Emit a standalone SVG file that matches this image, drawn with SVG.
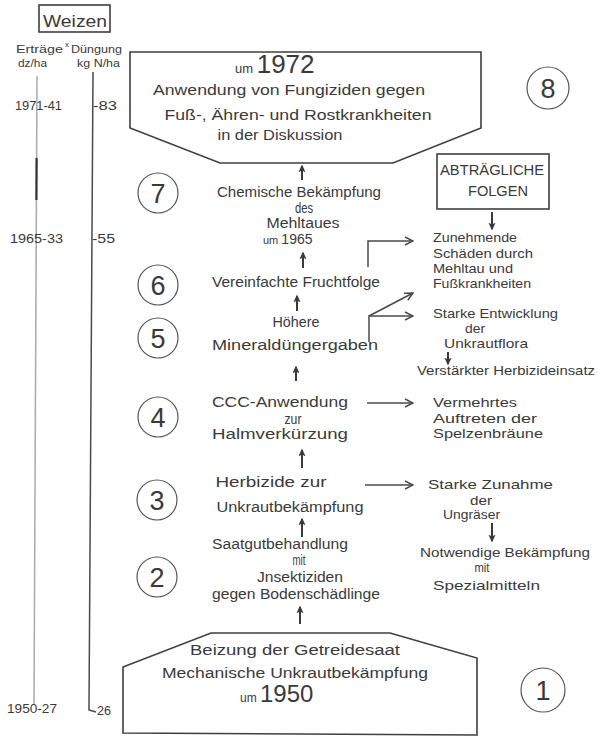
<svg xmlns="http://www.w3.org/2000/svg" width="598" height="737" viewBox="0 0 598 737">
<defs>
<style>
text{font-family:"Liberation Sans","DejaVu Sans",Arial,sans-serif;fill:#3a3a3a}
.t{font-size:14px;text-anchor:middle}
.r{font-size:13px}
.num{font-size:27px;text-anchor:middle}
.box{fill:none;stroke:#3f3f3f;stroke-width:1.6}
.circ{fill:none;stroke:#555;stroke-width:1.2}
.ln{fill:none;stroke:#4a4a4a;stroke-width:1.5}
.up{fill:none;stroke:#3a3a3a;stroke-width:2;marker-end:url(#ah)}
.rt{fill:none;stroke:#4a4a4a;stroke-width:1.5;marker-end:url(#ao)}
</style>
<marker id="ah" viewBox="0 0 10 10" refX="8" refY="5" markerWidth="8" markerHeight="8" orient="auto" markerUnits="userSpaceOnUse">
<path d="M0,0.5 L10,5 L0,9.5 L2.5,5 Z" fill="#3a3a3a"/>
</marker>
<marker id="ao" viewBox="0 0 10 10" refX="9" refY="5" markerWidth="10" markerHeight="10" orient="auto" markerUnits="userSpaceOnUse">
<path d="M1,1 L9,5 L1,9" fill="none" stroke="#4a4a4a" stroke-width="1.5"/>
</marker>
</defs>
<rect width="598" height="737" fill="#ffffff"/>

<g id="axis">
<rect x="39" y="5" width="71" height="27" class="box" stroke-width="1.3"/>
<text x="75" y="27" font-size="16" text-anchor="middle" textLength="64" lengthAdjust="spacingAndGlyphs">Weizen</text>
<text x="16" y="53" font-size="10" textLength="47" lengthAdjust="spacingAndGlyphs">Erträge</text>
<text x="65" y="47" font-size="8">x</text>
<text x="71" y="53" font-size="10" textLength="51" lengthAdjust="spacingAndGlyphs">Düngung</text>
<text x="18" y="67" font-size="10" textLength="29" lengthAdjust="spacingAndGlyphs">dz/ha</text>
<text x="77" y="67" font-size="11" textLength="43" lengthAdjust="spacingAndGlyphs">kg N/ha</text>
<line x1="37" y1="76" x2="34" y2="704" stroke="#aaa" stroke-width="1.5"/>
<line x1="36.6" y1="158" x2="36.4" y2="200" stroke="#333" stroke-width="2.2"/>
<polyline points="93,72 89,710 96,712" class="ln"/>
<text x="15" y="110" font-size="13" textLength="47" lengthAdjust="spacingAndGlyphs">1971-41</text>
<text x="93" y="110" font-size="13" textLength="24" lengthAdjust="spacingAndGlyphs">-83</text>
<text x="10" y="243" font-size="13" textLength="53" lengthAdjust="spacingAndGlyphs">1965-33</text>
<text x="92" y="243" font-size="13" textLength="23" lengthAdjust="spacingAndGlyphs">-55</text>
<text x="7" y="713" font-size="13" textLength="50" lengthAdjust="spacingAndGlyphs">1950-27</text>
<text x="97" y="715" font-size="13" textLength="14" lengthAdjust="spacingAndGlyphs">26</text>
</g>

<g id="connectors">
<line x1="302" y1="180" x2="302" y2="166" class="up"/>
<line x1="303" y1="268" x2="303" y2="253" class="up"/>
<line x1="297" y1="311" x2="297" y2="296" class="up"/>
<line x1="296" y1="381" x2="296" y2="367" class="up"/>
<line x1="302" y1="468" x2="302" y2="450" class="up"/>
<line x1="302" y1="537" x2="302" y2="519" class="up"/>
<line x1="300" y1="624" x2="300" y2="607" class="up"/>
<line x1="492" y1="212" x2="492" y2="229" class="up"/>
<line x1="448" y1="352" x2="448" y2="364" class="up"/>
<line x1="492" y1="523" x2="492" y2="541" class="up"/>
<polyline points="368,267 368,241 413,241" class="rt"/>
<polyline points="369,342 369,316 413,316" class="rt"/>
<line x1="369" y1="316" x2="413" y2="293" class="rt"/>
<line x1="367" y1="403" x2="413" y2="403" class="rt"/>
<line x1="365" y1="485" x2="413" y2="485" class="rt"/>
</g>

<g id="node8">
<polygon points="130,52 481,52 481,128 393,163 220,163 130,128" class="box"/>
<text x="235" y="73"><tspan font-size="13">um </tspan><tspan font-size="26">1972</tspan></text>
<text x="289" y="95" class="t" textLength="272" lengthAdjust="spacingAndGlyphs">Anwendung von Fungiziden  gegen</text>
<text x="298" y="120" class="t" textLength="267" lengthAdjust="spacingAndGlyphs">Fuß-, Ähren- und Rostkrankheiten</text>
<text x="280" y="140" class="t" textLength="125" lengthAdjust="spacingAndGlyphs">in der Diskussion</text>
<circle cx="548" cy="88" r="21" class="circ"/>
<text x="548" y="98" class="num">8</text>
</g>

<g id="node7">
<circle cx="158" cy="193" r="20" class="circ"/>
<text x="158" y="203" class="num">7</text>
<text x="299" y="197" class="t" textLength="164" lengthAdjust="spacingAndGlyphs">Chemische Bekämpfung</text>
<text x="304" y="213" class="t" font-size="12" textLength="18" lengthAdjust="spacingAndGlyphs">des</text>
<text x="303" y="228" class="t" textLength="73" lengthAdjust="spacingAndGlyphs">Mehltaues</text>
<text x="263" y="244"><tspan font-size="11">um </tspan><tspan font-size="14">1965</tspan></text>
</g>

<g id="node6">
<circle cx="158" cy="285" r="20" class="circ"/>
<text x="158" y="295" class="num">6</text>
<text x="296" y="287" class="t" textLength="168" lengthAdjust="spacingAndGlyphs">Vereinfachte Fruchtfolge</text>
</g>

<g id="node5">
<circle cx="158" cy="338" r="20" class="circ"/>
<text x="158" y="348" class="num">5</text>
<text x="296" y="327" class="t" textLength="47" lengthAdjust="spacingAndGlyphs">Höhere</text>
<text x="295" y="350" class="t" textLength="166" lengthAdjust="spacingAndGlyphs">Mineraldüngergaben</text>
</g>

<g id="node4">
<circle cx="158" cy="417" r="20" class="circ"/>
<text x="158" y="427" class="num">4</text>
<text x="280" y="407" class="t" textLength="136" lengthAdjust="spacingAndGlyphs">CCC-Anwendung</text>
<text x="293" y="424" class="t" font-size="10" textLength="17" lengthAdjust="spacingAndGlyphs">zur</text>
<text x="280" y="439" class="t" textLength="136" lengthAdjust="spacingAndGlyphs">Halmverkürzung</text>
</g>

<g id="node3">
<circle cx="157" cy="500" r="20" class="circ"/>
<text x="157" y="510" class="num">3</text>
<text x="271" y="487" class="t" textLength="111" lengthAdjust="spacingAndGlyphs">Herbizide  zur</text>
<text x="290" y="512" class="t" textLength="147" lengthAdjust="spacingAndGlyphs">Unkrautbekämpfung</text>
</g>

<g id="node2">
<circle cx="157" cy="577" r="20" class="circ"/>
<text x="157" y="587" class="num">2</text>
<text x="280" y="549" class="t" textLength="136" lengthAdjust="spacingAndGlyphs">Saatgutbehandlung</text>
<text x="299" y="565" class="t" font-size="9" textLength="13" lengthAdjust="spacingAndGlyphs">mit</text>
<text x="300" y="582" class="t" font-size="13" textLength="86" lengthAdjust="spacingAndGlyphs">Jnsektiziden</text>
<text x="296" y="599" class="t" textLength="168" lengthAdjust="spacingAndGlyphs">gegen Bodenschädlinge</text>
</g>

<g id="node1">
<polygon points="211,633 390,633 477,658 477,735 123,733 123,667" class="box"/>
<text x="295" y="655" class="t" textLength="210" lengthAdjust="spacingAndGlyphs">Beizung der Getreidesaat</text>
<text x="295" y="678" class="t" textLength="266" lengthAdjust="spacingAndGlyphs">Mechanische Unkrautbekämpfung</text>
<text x="240" y="702"><tspan font-size="12">um </tspan><tspan font-size="24">1950</tspan></text>
<circle cx="543" cy="690" r="22" class="circ"/>
<text x="543" y="700" class="num">1</text>
</g>

<g id="folgen">
<rect x="437" y="154" width="112" height="55" class="box"/>
<text x="492" y="175" class="t" font-size="13" textLength="104" lengthAdjust="spacingAndGlyphs">ABTRÄGLICHE</text>
<text x="498" y="196" class="t" font-size="13" textLength="60" lengthAdjust="spacingAndGlyphs">FOLGEN</text>
</g>

<g id="folge-mehltau">
<text x="433" y="242" class="r" textLength="84" lengthAdjust="spacingAndGlyphs">Zunehmende</text>
<text x="433" y="258" class="r" textLength="100" lengthAdjust="spacingAndGlyphs">Schäden durch</text>
<text x="433" y="273" class="r" textLength="80" lengthAdjust="spacingAndGlyphs">Mehltau und</text>
<text x="433" y="288" class="r" textLength="98" lengthAdjust="spacingAndGlyphs">Fußkrankheiten</text>
</g>

<g id="folge-unkraut">
<text x="433" y="318" class="r" textLength="125" lengthAdjust="spacingAndGlyphs">Starke Entwicklung</text>
<text x="475" y="333" class="r" text-anchor="middle" textLength="20" lengthAdjust="spacingAndGlyphs">der</text>
<text x="444" y="348" class="r" textLength="84" lengthAdjust="spacingAndGlyphs">Unkrautflora</text>
</g>

<g id="folge-herbizid">
<text x="417" y="375" class="r" textLength="178" lengthAdjust="spacingAndGlyphs">Verstärkter Herbizideinsatz</text>
</g>

<g id="folge-spelzen">
<text x="433" y="407" class="r" textLength="84" lengthAdjust="spacingAndGlyphs">Vermehrtes</text>
<text x="433" y="423" class="r" textLength="104" lengthAdjust="spacingAndGlyphs">Auftreten der</text>
<text x="433" y="438" class="r" textLength="110" lengthAdjust="spacingAndGlyphs">Spelzenbräune</text>
</g>

<g id="folge-ungraeser">
<text x="428" y="489" class="r" textLength="125" lengthAdjust="spacingAndGlyphs">Starke Zunahme</text>
<text x="481" y="505" class="r" font-size="12" text-anchor="middle" textLength="22" lengthAdjust="spacingAndGlyphs">der</text>
<text x="443" y="519" class="r" textLength="57" lengthAdjust="spacingAndGlyphs">Ungräser</text>
</g>

<g id="folge-spezial">
<text x="420" y="557" class="r" textLength="170" lengthAdjust="spacingAndGlyphs">Notwendige Bekämpfung</text>
<text x="482" y="572" class="r" text-anchor="middle" textLength="15" lengthAdjust="spacingAndGlyphs">mit</text>
<text x="433" y="590" class="r" textLength="107" lengthAdjust="spacingAndGlyphs">Spezialmitteln</text>
</g>
</svg>
